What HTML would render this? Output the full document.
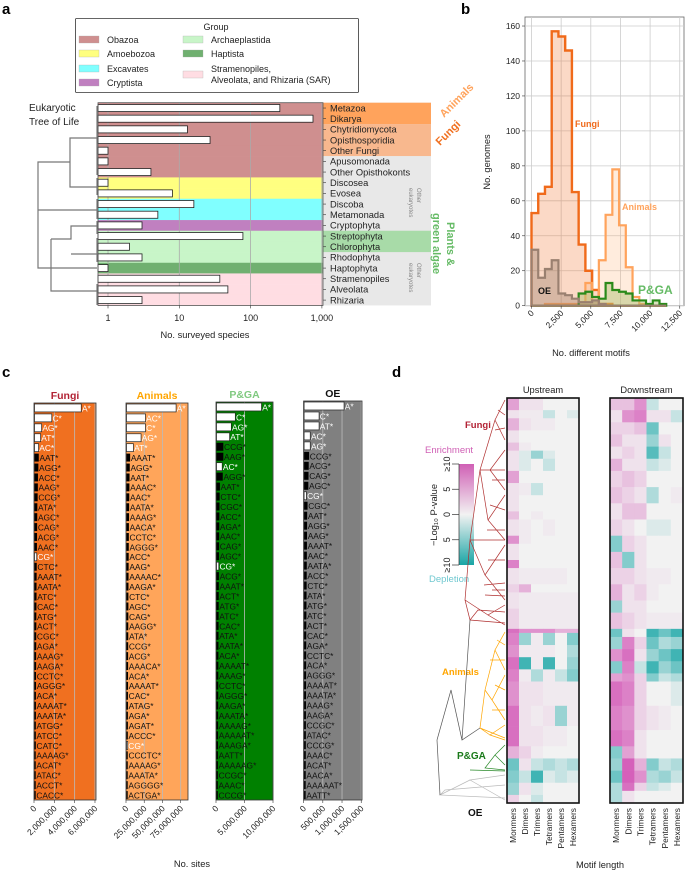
<!DOCTYPE html>
<html><head><meta charset="utf-8">
<style>
body{margin:0;background:#fff;}
svg{display:block;font-family:"Liberation Sans",sans-serif;}
</style></head>
<body>
<svg id="fig" width="685" height="872" viewBox="0 0 685 872" xmlns="http://www.w3.org/2000/svg">
<g id="pa"></g>
<g id="pb"></g>
<g id="pc"></g>
<g id="pd"></g>
</svg>
<script>
// ---------- Panel a data ----------
const taxa = ["Metazoa","Dikarya","Chytridiomycota","Opisthosporidia","Other Fungi","Apusomonada","Other Opisthokonts","Discosea","Evosea","Discoba","Metamonada","Cryptophyta","Streptophyta","Chlorophyta","Rhodophyta","Haptophyta","Stramenopiles","Alveolata","Rhizaria"];
const speciesCounts = [257,750,13,27,1,1,4,1,8,16,5,3,78,2,3,1,37,48,3];
const taxaGroup = [0,0,0,0,0,0,0,1,1,2,2,3,4,4,4,5,6,6,6];
const groupNames = ["Obazoa","Amoebozoa","Excavates","Cryptista","Archaeplastida","Haptista","Stramenopiles, Alveolata, and Rhizaria (SAR)"];
const groupColors = ["#cf8f8f","#ffff80","#80ffff","#c080c0","#c8f5c8","#70b070","#ffdde3"];
const aTicks = [1,10,100,1000];
const aTickLabels = ["1","10","100","1,000"];

// ---------- Panel b data ----------
const binWidth = 568;
const fungiHist = [53,64,68,157,154,146,65,35,20,9,1,1,0,0,0,0,0,0,0,0];
const animalsHist = [0,0,1,1,1,1,1,2,13,3,26,52,78,46,22,5,1,0,0,0];
const pgaHist = [0,0,0,0,0,0,0,7,8,5,4,13,9,8,7,3,3,1,3,1];
const oeHist = [32,16,21,26,7,6,4,2,2,3,1,0,0,0,0,0,0,0,0,0];
const bXTicks = [0,2500,5000,7500,10000,12500];
const bXTickLabels = ["0","2,500","5,000","7,500","10,000","12,500"];
const bYTicks = [0,20,40,60,80,100,120,140,160];

// ---------- Panel c data ----------
const fungiMotifs = ["A*","C*","AG*","AT*","AC*","AAT*","AGG*","ACC*","AAG*","CCG*","ATA*","AGC*","CAG*","ACG*","AAC*","CG*","CTC*","AAAT*","AATA*","ATC*","CAC*","ATG*","ACT*","CGC*","AGA*","AAAG*","AAGA*","CCTC*","AGGG*","ACA*","AAAAT*","AAATA*","ATGG*","ATCC*","CATC*","AAAAG*","ACAT*","ATAC*","ACCT*","CACC*"];
const fungiSites = [4600000,1700000,700000,600000,400000,420000,380000,340000,330000,310000,280000,270000,260000,250000,240000,220000,220000,210000,200000,200000,190000,180000,180000,170000,170000,160000,160000,150000,150000,140000,140000,140000,130000,130000,130000,120000,120000,120000,110000,110000];
const animalMotifs = ["A*","AC*","C*","AG*","AT*","AAAT*","AGG*","AAT*","AAAC*","AAC*","AATA*","AAAG*","AACA*","CCTC*","AGGG*","ACC*","AAG*","AAAAC*","AAGA*","CTC*","AGC*","CAG*","AAGG*","ATA*","CCG*","ACG*","AAACA*","ACA*","AAAAT*","CAC*","ATAG*","AGA*","AGAT*","ACCC*","CG*","CCCTC*","AAAAG*","AAATA*","AGGGG*","ACTGA*"];
const animalSites = [68000000,26000000,26000000,20000000,9500000,5000000,4500000,4200000,4000000,3800000,3600000,3500000,3300000,3200000,3100000,3000000,2900000,2800000,2700000,2600000,2600000,2500000,2400000,2400000,2300000,2200000,2200000,2100000,2100000,2000000,2000000,1900000,1900000,1800000,1500000,1700000,1700000,1600000,1600000,1500000];
const pgaMotifs = ["A*","C*","AG*","AT*","CCG*","AAG*","AC*","AGG*","AAT*","CTC*","CGC*","ACC*","AGA*","AAC*","CAG*","AGC*","CG*","ACG*","AAAT*","ACT*","ATG*","ATC*","CAC*","ATA*","AATA*","ACA*","AAAAT*","AAAG*","CCTC*","AGGG*","AAGA*","AAATA*","AAAAG*","AAAAAT*","AAAGA*","AATT*","AAAAAG*","CCGC*","AAAC*","CCCG*"];
const pgaSites = [7900000,3300000,2600000,2300000,1200000,1200000,1000000,1100000,600000,550000,520000,500000,480000,460000,450000,430000,400000,420000,400000,390000,380000,370000,360000,350000,340000,330000,320000,310000,300000,300000,290000,280000,280000,270000,260000,250000,250000,240000,230000,230000];
const oeMotifs = ["A*","C*","AT*","AC*","AG*","CCG*","ACG*","CAG*","AGC*","CG*","CGC*","AAT*","AGG*","AAG*","AAAT*","AAC*","AATA*","ACC*","CTC*","ATA*","ATG*","ATC*","ACT*","CAC*","AGA*","CCTC*","ACA*","AGGG*","AAAAT*","AAATA*","AAAG*","AAGA*","CCGC*","ATAC*","CCCG*","AAAC*","ACAT*","AACA*","AAAAAT*","AATT*"];
const oeSites = [1040000,390000,390000,160000,160000,130000,120000,115000,110000,60000,90000,80000,78000,76000,74000,72000,70000,68000,66000,64000,62000,60000,58000,56000,55000,54000,53000,52000,51000,50000,49000,48000,47000,46000,45000,44000,43000,42000,41000,40000];

// ---------- Panel d data ----------
const motifLengths = ["Monmers","Dimers","Trimers","Tetramers","Pentamers","Hexamers"];
const heatRows = 100;
const upBandStart = [0,3,5,8,11,13,15,18,21,24,28,30,34,36,40,42,46,48,52,57,58,61,64,67,70,76,81,86,89,92,95,98];
const upBandEnd   = [3,5,8,11,13,15,18,21,24,28,30,34,36,40,42,46,48,52,57,58,61,64,67,70,76,81,86,89,92,95,98,100];
const upBandVals = [[5,1,1,0,0,0],[1,0.5,0.5,-2,0,-1],[4,1,0.5,0.5,0,0],[1,0,0,0,0,0],[3,0.5,0,0,0,0],[1,-1,-4,-1,0,0],[1,-1,0,-2,0,0],[5,0,0,0,0,0],[1,0.5,-2,0,0,0],[1,0,0,0,0,0],[3,0,0.5,0,0,0],[1,0.5,0,0.5,0,0],[6,0.5,0,0,0,0],[1,0,0,0,0,0],[7,0,0,0,0,0],[1,0.5,0.5,0.5,0.5,0],[2,4,0,0,0,0],[1,0.5,0.5,0.5,0.5,0.5],[2,0.5,0.5,0.5,0.5,0.5],[8,6,6,6,4,4],[7,-4,0.5,-4,0,-5],[6,0.5,0.5,0.5,0,-3],[8,-8,0.5,-8,0,-4],[7,0.5,-3,0.5,-2,-5],[6,1,1,0.5,0.5,0.5],[8,1,0.5,1,-4,0.5],[8,1,1,0.5,0.5,0],[4,2,0.5,0,0,0],[-6,1,-2,-3,-2,-3],[-5,-2,-8,-1,-2,-1],[-4,1,-1,0,0,0],[2,0,-2,0,0,0]];
const downBandStart = [0,3,6,9,12,15,18,22,26,30,34,38,42,46,50,53,57,59,62,65,68,70,76,82,86,89,92,95,97];
const downBandEnd   = [3,6,9,12,15,18,22,26,30,34,38,42,46,50,53,57,59,62,65,68,70,76,82,86,89,92,95,97,100];
const downBandVals = [[3,3,6,-2,0,0],[1,6,7,1,1,-2],[2,2,3,-6,0,0],[3,1,1,-4,1,0],[1,2,1,-7,-2,0],[4,1,1,-2,-1,0],[2,3,2,0,0,0],[3,2,1,-3,0,0.5],[1,3,3,0,0,0],[2,1,0,-1,-1,0],[-5,2,1,0,0,0],[3,-5,1,0,0,0],[2,2,1,0.5,0.5,0],[4,1,2,0.5,0,0],[-4,1,1,0,0,0],[3,2,1,0.5,0.5,0.5],[-6,1,0,-8,-6,-8],[-4,7,2,-6,-3,-4],[6,8,1,-4,-6,-8],[-5,7,-2,-8,-4,-6],[5,6,2,-5,-2,-3],[8,7,2,0,0,-1],[7,6,2,1,0.5,0],[8,7,1,0,0,0],[-5,5,1,0,0,0],[-4,9,4,-5,-2,-3],[-6,9,6,-3,-4,-2],[-3,8,2,-2,-1,0],[-3,1,0,0,0,0]];

const NS="http://www.w3.org/2000/svg";
function mk(parent,tag,attrs,name,inter,text){
  const e=document.createElementNS(NS,tag);
  for(const k in attrs) e.setAttribute(k,attrs[k]);
  
  
  if(text!==undefined) e.textContent=text;
  parent.appendChild(e); return e;
}
// ================= PANEL A =================
(function(){
  const g=document.getElementById('pa');
  mk(g,'text',{x:2,y:14,'font-size':15,'font-weight':'bold'},'panel-label-a',false,'a');
  const lg=mk(g,'g',{},'group-legend',false);
  mk(lg,'rect',{x:75.5,y:18.5,width:283,height:74,fill:'#fff',stroke:'#333','stroke-width':0.8,rx:1},'legend-box',false);
  mk(lg,'text',{x:216,y:30,'font-size':9,'text-anchor':'middle',fill:'#222'},'legend-title',false,'Group');
  const lx=[79,183], ly=[40,54,69,83];
  const pos=[[0,0],[0,1],[0,2],[0,3],[1,0],[1,1],[1,2]];
  for(let i=0;i<7;i++){
    const [c,r]=pos[i];
    const en=mk(lg,'g',{},'legend-entry',false);
    const yy = i===6? 75 : ly[r];
    mk(en,'rect',{x:lx[c],y:yy-4,width:20,height:7,fill:groupColors[i],stroke:'#aaa','stroke-width':0.3},'legend-swatch',false);
    if(i===6){
      mk(en,'text',{x:lx[c]+28,y:72,'font-size':9,fill:'#222'},'legend-label',false,'Stramenopiles,');
      mk(en,'text',{x:lx[c]+28,y:83,'font-size':9,fill:'#222'},'legend-label',false,'Alveolata, and Rhizaria (SAR)');
    } else mk(en,'text',{x:lx[c]+28,y:yy+3,'font-size':9,fill:'#222'},'legend-label',false,groupNames[i]);
  }
  const top=102.7, rh=10.67, L=98, R=323;
  const xs=v=>108+Math.log10(v)*71.3;
  const ys=i=>top+i*rh;
  mk(g,'rect',{x:R,y:top,width:108,height:19*rh,fill:'#e8e8e8'},'other-bg',false);
  mk(g,'rect',{x:R,y:top,width:108,height:2*rh,fill:'#ffa35c'},'animals-bg',false);
  mk(g,'rect',{x:R,y:top+2*rh,width:108,height:3*rh,fill:'#f8b88e'},'fungi-bg',false);
  mk(g,'rect',{x:R,y:top+12*rh,width:108,height:2*rh,fill:'#a8dba8'},'plants-bg',false);
  for(let i=0;i<taxa.length;i++) mk(g,'rect',{x:L,y:ys(i),width:R-L,height:rh+0.3,fill:groupColors[taxaGroup[i]]},'row-background',false);
  aTicks.forEach(t=>mk(g,'line',{x1:xs(t),x2:xs(t),y1:top,y2:top+19*rh,stroke:'#aaa','stroke-width':0.8},'grid-line',false));
  for(let i=0;i<taxa.length;i++){
    mk(g,'rect',{x:L,y:ys(i)+1.8,width:xs(speciesCounts[i])-L,height:rh-3.6,fill:'#fff',stroke:'#222','stroke-width':0.8},'species-bar',false);
    mk(g,'line',{x1:R,x2:R+3,y1:ys(i)+rh/2,y2:ys(i)+rh/2,stroke:'#333','stroke-width':0.6},'y-tick',false);
    mk(g,'text',{x:R+7,y:ys(i)+rh/2+3.3,'font-size':9.3,fill:'#222'},'taxon-label',false,taxa[i]);
  }
  mk(g,'rect',{x:L,y:top,width:R-L,height:19*rh,fill:'none',stroke:'#555','stroke-width':0.8},'plot-frame',false);
  aTicks.forEach((t,k)=>{
    mk(g,'line',{x1:xs(t),x2:xs(t),y1:top+19*rh,y2:top+19*rh+3,stroke:'#333','stroke-width':0.6},'x-tick',false);
    mk(g,'text',{x:xs(t),y:321,'font-size':9,'text-anchor':'middle',fill:'#222'},'x-tick-label',false,aTickLabels[k]);
  });
  mk(g,'text',{x:205,y:338,'font-size':9.3,'text-anchor':'middle',fill:'#222'},'x-axis-title',false,'No. surveyed species');
  mk(g,'text',{x:29,y:111,'font-size':10,fill:'#222'},'tree-title',false,'Eukaryotic');
  mk(g,'text',{x:29,y:125,'font-size':10,fill:'#222'},'tree-title',false,'Tree of Life');
  const tp=["M97,138 H70 V187 H97","M70,162 H38 V268 H97","M38,210 H97","M51,239 V291 H97","M51,239 H71 V226 H97","M71,254 H97",
    "M97,106 V175","M97,178 V195","M97,199 V219","M97,221 V234","M97,238 V262","M97,284 V305"];
  tp.forEach(d=>mk(g,'path',{d:d,fill:'none',stroke:'#777','stroke-width':1.2},'tree-branch',false));
  mk(g,'text',{transform:'translate(444,118) rotate(-45)','font-size':11,'font-weight':'bold',fill:'#ffa35c'},'animals-label',false,'Animals');
  mk(g,'text',{transform:'translate(440,146) rotate(-45)','font-size':11,'font-weight':'bold',fill:'#f07020'},'fungi-label',false,'Fungi');
  mk(g,'text',{transform:'translate(447,222) rotate(90)','font-size':11,'font-weight':'bold',fill:'#66bb66'},'plants-label',false,'Plants &');
  mk(g,'text',{transform:'translate(433,213) rotate(90)','font-size':11,'font-weight':'bold',fill:'#66bb66'},'plants-label',false,'green algae');
  mk(g,'text',{transform:'translate(417,188) rotate(90)','font-size':6,fill:'#888'},'other-euk-label',false,'Other');
  mk(g,'text',{transform:'translate(409,188) rotate(90)','font-size':6,fill:'#888'},'other-euk-label',false,'eukaryotes');
  mk(g,'text',{transform:'translate(417,263) rotate(90)','font-size':6,fill:'#888'},'other-euk-label',false,'Other');
  mk(g,'text',{transform:'translate(409,263) rotate(90)','font-size':6,fill:'#888'},'other-euk-label',false,'eukaryotes');
})();
// ================= PANEL B =================
(function(){
  const g=document.getElementById('pb');
  mk(g,'text',{x:461,y:14,'font-size':15,'font-weight':'bold'},'panel-label-b',false,'b');
  const L=525,R=684,T=17,B=305.7;
  const xs=v=>531.5+v*(29.65/2500), ys=v=>B-v*1.748;
  mk(g,'rect',{x:L,y:T,width:R-L,height:B-T,fill:'#fff',stroke:'#666','stroke-width':0.8},'plot-frame',false);
  bXTicks.forEach(t=>mk(g,'line',{x1:xs(t),x2:xs(t),y1:T,y2:B,stroke:'#ccc','stroke-width':0.8},'grid-line',false));
  bYTicks.forEach(t=>mk(g,'line',{x1:L,x2:R,y1:ys(t),y2:ys(t),stroke:'#ccc','stroke-width':0.8},'grid-line',false));
  function hist(arr,stroke,fill,name,w){
    let d='M'+xs(0)+','+ys(0);
    arr.forEach((v,i)=>{d+=' L'+xs(i*binWidth)+','+ys(v)+' L'+xs((i+1)*binWidth)+','+ys(v);});
    d+=' L'+xs(arr.length*binWidth)+','+ys(0)+' Z';
    mk(g,'path',{d:d,fill:fill,stroke:stroke,'stroke-width':w,'stroke-linejoin':'miter'},name,false);
  }
  hist(fungiHist,'#f06a1a','rgba(240,120,50,0.28)','fungi-histogram',2.4);
  hist(animalsHist,'#ffa35c','rgba(255,170,100,0.22)','animals-histogram',2.2);
  hist(pgaHist,'#2a8a1a','rgba(170,190,110,0.45)','pga-histogram',2.2);
  hist(oeHist,'#9a8070','rgba(150,120,100,0.35)','oe-histogram',2.2);
  bYTicks.forEach(t=>{
    mk(g,'line',{x1:L-3,x2:L,y1:ys(t),y2:ys(t),stroke:'#333','stroke-width':0.6},'y-tick',false);
    mk(g,'text',{x:L-5,y:ys(t)+3,'font-size':8.5,'text-anchor':'end',fill:'#222'},'y-tick-label',false,String(t));
  });
  bXTicks.forEach((t,k)=>{
    mk(g,'line',{x1:xs(t),x2:xs(t),y1:B,y2:B+3,stroke:'#333','stroke-width':0.6},'x-tick',false);
    mk(g,'text',{transform:`translate(${xs(t)+3},${B+8}) rotate(-45)`,'font-size':8.5,'text-anchor':'end',fill:'#222'},'x-tick-label',false,bXTickLabels[k]);
  });
  mk(g,'text',{transform:'translate(490,162) rotate(-90)','font-size':9.3,'text-anchor':'middle',fill:'#222'},'y-axis-title',false,'No. genomes');
  mk(g,'text',{x:591,y:356,'font-size':9.3,'text-anchor':'middle',fill:'#222'},'x-axis-title',false,'No. different motifs');
  mk(g,'text',{x:575,y:127,'font-size':9,'font-weight':'bold',fill:'#f06a1a'},'fungi-label',false,'Fungi');
  mk(g,'text',{x:622,y:210,'font-size':9,'font-weight':'bold',fill:'#ffa35c'},'animals-label',false,'Animals');
  mk(g,'text',{x:638,y:294,'font-size':12,'font-weight':'bold',fill:'#66bb66'},'pga-label',false,'P&GA');
  mk(g,'text',{x:538,y:294,'font-size':9,'font-weight':'bold',fill:'#111'},'oe-label',false,'OE');
})();
// ================= PANEL C =================
(function(){
  const g=document.getElementById('pc');
  mk(g,'text',{x:2,y:377,'font-size':15,'font-weight':'bold'},'panel-label-c',false,'c');
  const T=403,B=800,n=40;
  const panels=[
    {name:'fungi',title:'Fungi',tc:'#b22234',bg:'#f07020',L:34,R:96,max:6100000,motifs:fungiMotifs,vals:fungiSites,ticks:[0,2000000,4000000,6000000],tl:['0','2,000,000','4,000,000','6,000,000']},
    {name:'animals',title:'Animals',tc:'#ffa500',bg:'#ffa55a',L:126,R:188,max:85000000,motifs:animalMotifs,vals:animalSites,ticks:[0,25000000,50000000,75000000],tl:['0','25,000,000','50,000,000','75,000,000']},
    {name:'pga',title:'P&GA',tc:'#7fc97f',bg:'#008000',L:216,R:273,max:10000000,motifs:pgaMotifs,vals:pgaSites,ticks:[0,5000000,10000000],tl:['0','5,000,000','10,000,000']},
    {name:'oe',title:'OE',tc:'#111',bg:'#808080',L:303.6,R:362,max:1520000,motifs:oeMotifs,vals:oeSites,ticks:[0,500000,1000000,1500000],tl:['0','500,000','1,000,000','1,500,000']}
  ];
  panels.forEach(p=>{
    const pg=mk(g,'g',{},p.name+'-motif-chart',false);
    const xs=v=>p.L+v/p.max*(p.R-p.L);
    const top = p.name==='oe'?T-2:(p.name==='pga'?T-1:T);
    const rr=(B-top)/n;
    mk(pg,'rect',{x:p.L,y:top,width:p.R-p.L,height:B-top,fill:p.bg},'plot-background',false);
    p.ticks.forEach(t=>{ if(t>0) mk(pg,'line',{x1:xs(t),x2:xs(t),y1:top,y2:B,stroke:'#bbb','stroke-width':0.8},'grid-line',false);});
    mk(pg,'text',{x:(p.L+p.R)/2,y:top-4,'font-size':10.5,'font-weight':'bold','text-anchor':'middle',fill:p.tc},'panel-title',false,p.title);
    for(let i=0;i<n;i++){
      const m=p.motifs[i], short=m.replace('*','').length<=2;
      const y=top+i*rr;
      const w=xs(p.vals[i])-p.L;
      mk(pg,'rect',{x:p.L+0.5,y:y+1,width:Math.max(w,1.2),height:rr-2,fill:short?'#fff':'#000',stroke:short?'#222':'none','stroke-width':0.7},'motif-bar',false);
      mk(pg,'text',{x:p.L+w+1.2,y:y+rr-1.6,'font-size':8.4,fill:short?'#fff':'#111'},'motif-label',false,m);
    }
    mk(pg,'rect',{x:p.L,y:top,width:p.R-p.L,height:B-top,fill:'none',stroke:'#333','stroke-width':0.8},'plot-frame',false);
    p.ticks.forEach((t,k)=>{
      mk(pg,'line',{x1:xs(t),x2:xs(t),y1:B,y2:B+3,stroke:'#333','stroke-width':0.6},'x-tick',false);
      mk(pg,'text',{transform:`translate(${xs(t)+3},${B+9}) rotate(-45)`,'font-size':8.5,'text-anchor':'end',fill:'#222'},'x-tick-label',false,p.tl[k]);
    });
  });
  mk(g,'text',{x:192,y:867,'font-size':9.3,'text-anchor':'middle',fill:'#222'},'x-axis-title',false,'No. sites');
})();
// ================= PANEL D =================
(function(){
  const g=document.getElementById('pd');
  mk(g,'text',{x:392,y:377,'font-size':15,'font-weight':'bold'},'panel-label-d',false,'d');
  function col(v){
    const t=Math.max(-1,Math.min(1,v/10));
    const base=[242,242,242], pos=[210,80,180], neg=[20,165,165];
    const tgt=t>=0?pos:neg, a=Math.abs(t);
    return 'rgb('+base.map((b,k)=>Math.round(b+(tgt[k]-b)*a)).join(',')+')';
  }
  function heat(L,R,starts,ends,vals,name,title){
    const hg=mk(g,'g',{},name,false);
    const T=398,B=803,rh=(B-T)/heatRows,cw=(R-L)/6;
    mk(hg,'rect',{x:L,y:T,width:R-L,height:B-T,fill:'#f2f2f2'},'heatmap-bg',false);
    for(let b=0;b<starts.length;b++){
      for(let c=0;c<6;c++){
        mk(hg,'rect',{x:L+c*cw,y:T+starts[b]*rh,width:cw+0.3,height:(ends[b]-starts[b])*rh+0.3,fill:col(vals[b][c])},'heatmap-cell',false);
      }
    }
    mk(hg,'rect',{x:L,y:T,width:R-L,height:B-T,fill:'none',stroke:'#111','stroke-width':1.6},'heatmap-frame',false);
    mk(hg,'text',{x:(L+R)/2,y:393,'font-size':9.3,'text-anchor':'middle',fill:'#222'},'heatmap-title',false,title);
    motifLengths.forEach((m,c)=>mk(hg,'text',{transform:`translate(${L+c*cw+cw/2+3},${B+5}) rotate(-90)`,'font-size':8.4,'text-anchor':'end',fill:'#222'},'column-label',false,m));
  }
  heat(507,579,upBandStart,upBandEnd,upBandVals,'upstream-heatmap','Upstream');
  heat(610,683,downBandStart,downBandEnd,downBandVals,'downstream-heatmap','Downstream');
  mk(g,'text',{x:600,y:868,'font-size':9.3,'text-anchor':'middle',fill:'#222'},'x-axis-title',false,'Motif length');
  const defs=mk(g,'defs',{},'defs',false);
  const lgd=mk(defs,'linearGradient',{id:'cb',x1:0,y1:0,x2:0,y2:1},'colorbar-gradient',false);
  [['0','#d060b5'],['0.5','#f2f2f2'],['1','#1aa5a5']].forEach(s=>mk(lgd,'stop',{offset:s[0],'stop-color':s[1]},'gradient-stop',false));
  mk(g,'rect',{x:459,y:464,width:15,height:101,fill:'url(#cb)'},'colorbar',false);
  const cbT=['≥10','5','0','5','≥10'];
  cbT.forEach((t,k)=>{
    const y=464+k*25.25;
    mk(g,'line',{x1:452,x2:459,y1:y,y2:y,stroke:'#333','stroke-width':0.7},'colorbar-tick',false);
    mk(g,'text',{transform:`translate(450,${y}) rotate(-90)`,'font-size':9,'text-anchor':'middle',fill:'#222'},'colorbar-tick-label',false,t);
  });
  mk(g,'line',{x1:459,x2:459,y1:464,y2:565,stroke:'#333','stroke-width':0.7},'colorbar-axis',false);
  mk(g,'text',{transform:'translate(437,515) rotate(-90)','font-size':9.3,'text-anchor':'middle',fill:'#222'},'colorbar-title',false,'−Log₁₀ P-value');
  mk(g,'text',{x:425,y:453,'font-size':9.5,fill:'#d060b5'},'enrichment-label',false,'Enrichment');
  mk(g,'text',{x:429,y:582,'font-size':9.5,fill:'#70c8d0'},'depletion-label',false,'Depletion');
  mk(g,'text',{x:465,y:428,'font-size':9.5,'font-weight':'bold',fill:'#b22234'},'fungi-label',false,'Fungi');
  mk(g,'text',{x:442,y:675,'font-size':9.5,'font-weight':'bold',fill:'#ffa500'},'animals-label',false,'Animals');
  mk(g,'text',{x:457,y:759,'font-size':10,'font-weight':'bold',fill:'#1a7a1a'},'pga-label',false,'P&GA');
  mk(g,'text',{x:468,y:816,'font-size':10,'font-weight':'bold',fill:'#111'},'oe-label',false,'OE');
  const tree=[
    ['#b03030',"M505,400 L495,420 L505,440 M505,450 L490,470 L505,490 M505,495 L488,520 L505,540 M505,545 L485,575 L505,600 M505,605 L488,615 L505,625 M495,420 L480,470 L488,520 M480,470 L470,540 L485,575 M470,540 L465,600 L488,615 M465,600 L470,620 L505,623 M470,620 L478,610 L505,612 M480,470 L505,470 M470,540 L505,540 M488,560 L505,560 M492,590 L505,590 M498,410 L505,415 M495,430 L505,428 M492,480 L505,480 M490,505 L505,510 M487,530 L505,530 M484,585 L505,583 M485,595 L505,596"],
    ['#ffa500',"M505,632 L495,650 L505,670 M505,675 L492,700 L505,720 M505,725 L490,735 L505,740 M495,650 L485,690 L492,700 M485,690 L480,728 L490,735 M480,728 L505,738 M490,660 L505,660 M492,710 L505,710 M497,640 L505,645 M495,685 L505,690"],
    ['#2a8a2a',"M505,745 L495,755 L505,765 M495,755 L485,768 L505,770 M470,770 L505,771"],
    ['#bbb',"M505,775 L470,780 L505,800 M470,780 L440,795 L505,798 M440,795 L445,790 L505,785"],
    ['#555',"M437,740 L451,690 L462,740 L480,728 M462,740 L470,620 M437,740 L440,795"]
  ];
  tree.forEach(t=>mk(g,'path',{d:t[1],fill:'none',stroke:t[0],'stroke-width':0.7},'dendrogram-branch',false));
})();
</script>
</body></html>
